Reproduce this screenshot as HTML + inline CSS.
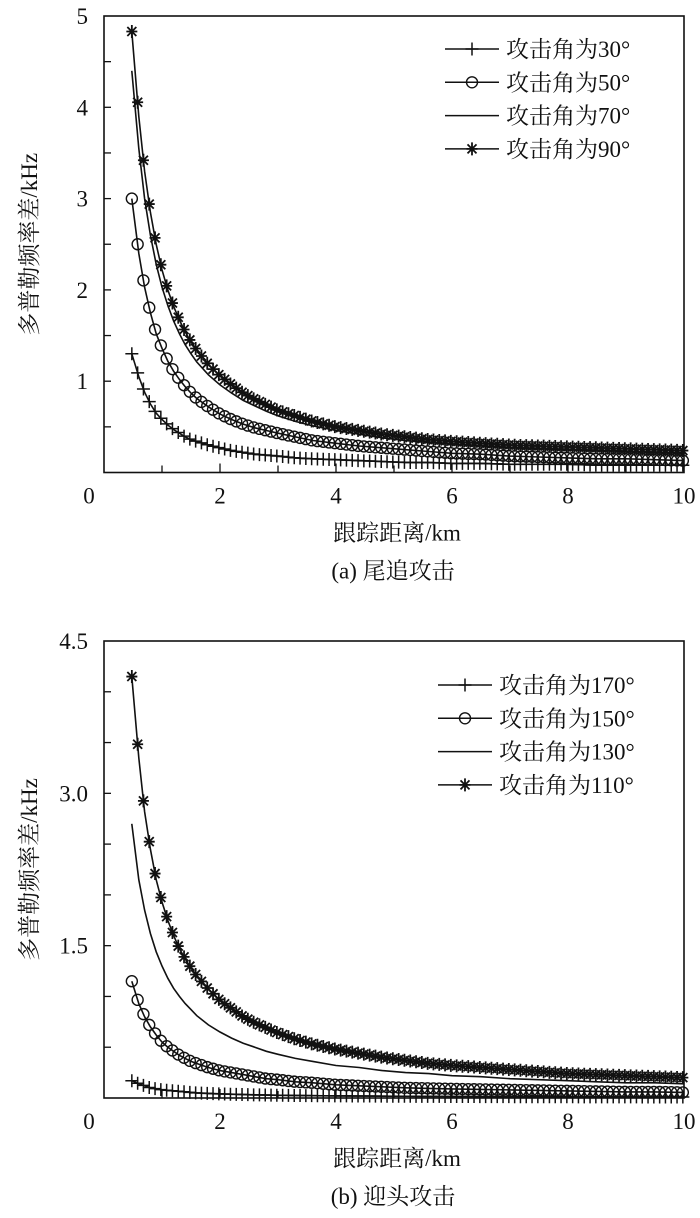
<!DOCTYPE html>
<html><head><meta charset="utf-8">
<style>
body{margin:0;background:#fff;}
svg{display:block;}
text{font-family:"Liberation Serif","Noto Serif CJK SC",serif;fill:#111;}
</style></head>
<body>
<svg id="svg" width="700" height="1218" viewBox="0 0 700 1218" xmlns="http://www.w3.org/2000/svg"></svg>
<script>
const xDist = [0.48,0.6,0.7,0.8,0.9,1.0,1.1,1.2,1.3,1.4,1.5,1.6,1.8,2.0,2.2,2.4,2.6,2.8,3.0,3.3,3.6,4.0,4.4,4.8,5.2,5.6,6.0,6.5,7.0,7.5,8.0,8.5,9.0,9.5,10];
const tail30 = [1.30,1.05,0.88,0.75,0.65,0.58,0.52,0.47,0.43,0.39,0.36,0.34,0.30,0.27,0.24,0.22,0.20,0.19,0.18,0.16,0.15,0.14,0.13,0.12,0.11,0.11,0.10,0.10,0.09,0.09,0.09,0.08,0.08,0.08,0.08];
const tail50 = [3.00,2.40,2.03,1.75,1.52,1.36,1.22,1.11,1.02,0.94,0.87,0.81,0.72,0.64,0.58,0.53,0.49,0.46,0.43,0.39,0.35,0.32,0.29,0.27,0.25,0.23,0.21,0.20,0.18,0.17,0.16,0.15,0.15,0.14,0.13];
const tail70 = [4.40,3.55,3.00,2.60,2.28,2.03,1.83,1.66,1.52,1.40,1.30,1.21,1.07,0.96,0.87,0.79,0.73,0.67,0.62,0.56,0.51,0.46,0.42,0.38,0.35,0.33,0.31,0.29,0.27,0.26,0.25,0.24,0.23,0.22,0.21];
const tail90 = [4.83,3.90,3.30,2.85,2.50,2.22,2.00,1.82,1.67,1.54,1.43,1.34,1.18,1.06,0.96,0.87,0.80,0.74,0.68,0.62,0.56,0.50,0.46,0.42,0.39,0.36,0.34,0.32,0.30,0.29,0.28,0.27,0.26,0.25,0.24];
const head170 = [0.17,0.14,0.12,0.10,0.09,0.08,0.075,0.07,0.065,0.06,0.055,0.05,0.045,0.04,0.037,0.034,0.031,0.029,0.027,0.025,0.023,0.021,0.02,0.018,0.017,0.016,0.015,0.014,0.013,0.012,0.012,0.011,0.011,0.01,0.01];
const head150 = [1.15,0.93,0.80,0.70,0.62,0.55,0.50,0.46,0.42,0.39,0.36,0.34,0.30,0.27,0.25,0.23,0.21,0.19,0.18,0.16,0.15,0.13,0.12,0.11,0.10,0.095,0.09,0.085,0.08,0.075,0.07,0.065,0.06,0.06,0.055];
const head130 = [2.70,2.15,1.85,1.62,1.44,1.30,1.18,1.08,1.00,0.93,0.87,0.81,0.72,0.65,0.59,0.54,0.50,0.46,0.43,0.39,0.36,0.32,0.30,0.27,0.25,0.24,0.22,0.21,0.19,0.18,0.17,0.16,0.15,0.15,0.14];
const head110 = [4.15,3.35,2.82,2.45,2.15,1.93,1.75,1.60,1.47,1.37,1.28,1.20,1.07,0.96,0.88,0.80,0.74,0.69,0.64,0.58,0.53,0.48,0.44,0.40,0.37,0.34,0.32,0.30,0.28,0.26,0.24,0.23,0.22,0.21,0.20];
const xTicks = [0,2,4,6,8,10];
const yTicksA = ["0","1","2","3","4","5"];
const yTicksB = ["0","1.5","3.0","4.5"];
const legendA = ["攻击角为30°","攻击角为50°","攻击角为70°","攻击角为90°"];
const legendB = ["攻击角为170°","攻击角为150°","攻击角为130°","攻击角为110°"];

const NS="http://www.w3.org/2000/svg";
const svg=document.getElementById('svg');
function mk(tag,attrs,parent){const e=document.createElementNS(NS,tag);for(const k in attrs)e.setAttribute(k,attrs[k]);(parent||svg).appendChild(e);return e;}

function marker(g,type,x,y){
  let e;
  if(type==='plus'){
    e=mk('path',{d:`M${x-6.5},${y}H${x+6.5}M${x},${y-6.5}V${y+6.5}`,stroke:'#111','stroke-width':1.5,fill:'none'},g);
  }else if(type==='circle'){
    e=mk('circle',{cx:x,cy:y,r:5.5,stroke:'#111','stroke-width':1.4,fill:'none'},g);
  }else if(type==='star'){
    e=mk('path',{d:`M${x-5.5},${y}H${x+5.5}M${x},${y-6.5}V${y+6.5}M${x-4.5},${y-4.5}L${x+4.5},${y+4.5}M${x-4.5},${y+4.5}L${x+4.5},${y-4.5}`,stroke:'#111','stroke-width':1.8,fill:'none'},g);
  }
  if(e){
    
    
  }
}

function chart(cfg){
  const L=104,R=684,T=cfg.top,B=cfg.bottom;
  const sx=v=>L+(v/10)*(R-L);
  const sy=v=>B-(v/cfg.ymax)*(B-T);
  const g=mk('g',{});
  
  
  const frame=mk('rect',{x:L,y:T,width:R-L,height:B-T,fill:'none',stroke:'#111','stroke-width':1.6},g);
  
  
  for(let v=1;v<10;v++){
    const t=mk('line',{x1:sx(v),x2:sx(v),y1:B,y2:B-(v%2?7:9),stroke:'#111','stroke-width':1.3},g);
    
    
  }
  xTicks.forEach(v=>{
    const t=mk('text',{x:sx(v)-(v===0?15:0),y:B+31,'font-size':23,'text-anchor':'middle'},g);
    t.textContent=v;
    
    
  });
  for(let v=cfg.minor;v<cfg.ymax-1e-6;v+=cfg.minor){
    const t=mk('line',{x1:L,x2:L+7,y1:sy(v),y2:sy(v),stroke:'#111','stroke-width':1.3},g);
    
    
  }
  cfg.yLabels.forEach(s=>{
    const v=parseFloat(s);
    if(v===0)return;
    const t=mk('text',{x:88,y:sy(v)+8,'font-size':23,'text-anchor':'end'},g);
    t.textContent=s;
    
    
  });
  const yt=mk('text',{x:0,y:0,'font-size':23,'text-anchor':'middle',transform:`translate(37,${(T+B)/2}) rotate(-90)`},g);
  yt.textContent='多普勒频率差/kHz';
  
  
  const xt=mk('text',{x:397,y:B+68,'font-size':23,'text-anchor':'middle'},g);
  xt.textContent='跟踪距离/km';
  
  
  const cap=mk('text',{x:393,y:B+106,'font-size':23,'text-anchor':'middle'},g);
  cap.textContent=cfg.caption;
  
  
  cfg.series.forEach((s,i)=>{
    const sg=mk('g',{},g);
    
    
    const d=xDist.map((x,k)=>(k?'L':'M')+sx(x).toFixed(1)+','+sy(s.vals[k]).toFixed(1)).join('');
    const p=mk('path',{d:d,fill:'none',stroke:'#111','stroke-width':1.6},sg);
    
    
    if(s.m){
      for(let x=xDist[0];x<=10.001;x+=0.1){
        let k=0;while(k<xDist.length-2&&xDist[k+1]<x)k++;
        const f=(x-xDist[k])/(xDist[k+1]-xDist[k]);
        const y=s.vals[k]+(s.vals[k+1]-s.vals[k])*Math.min(1,Math.max(0,f));
        marker(sg,s.m,sx(x),sy(y));
      }
    }
    const ly=cfg.legY+i*33.3;
    const lg=mk('g',{},g);
    
    
    mk('line',{x1:cfg.legX,x2:cfg.legX+54,y1:ly,y2:ly,stroke:'#111','stroke-width':1.5},lg);
    if(s.m) marker(lg,s.m,cfg.legX+27,ly);
    const lt=mk('text',{x:cfg.legX+61,y:ly+8,'font-size':23},lg);
    lt.textContent=s.label;
    
    
  });
}

chart({name:'chart-tail-attack',top:16,bottom:472.5,ymax:5,minor:0.5,yLabels:yTicksA,caption:'(a) 尾追攻击',legX:445,legY:49,
  series:[{label:legendA[0],vals:tail30,m:'plus'},{label:legendA[1],vals:tail50,m:'circle'},{label:legendA[2],vals:tail70,m:null},{label:legendA[3],vals:tail90,m:'star'}]});
chart({name:'chart-head-on-attack',top:641,bottom:1098,ymax:4.5,minor:0.5,yLabels:yTicksB,caption:'(b) 迎头攻击',legX:438,legY:685,
  series:[{label:legendB[0],vals:head170,m:'plus'},{label:legendB[1],vals:head150,m:'circle'},{label:legendB[2],vals:head130,m:null},{label:legendB[3],vals:head110,m:'star'}]});
</script>
</body></html>
